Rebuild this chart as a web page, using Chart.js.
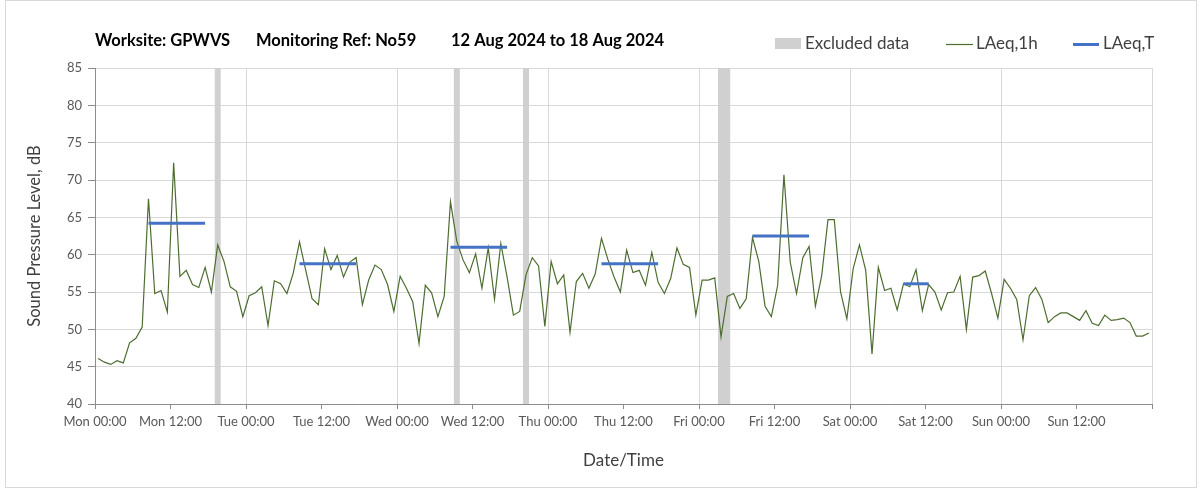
<!DOCTYPE html>
<html>
<head>
<meta charset="utf-8">
<script src="https://cdn.jsdelivr.net/npm/chart.js@4.4.1/dist/chart.umd.min.js"></script>
<style>
  html, body { margin: 0; padding: 0; background: #fff; }
  canvas { display: block; }
</style>
</head>
<body>
<canvas id="noise-chart" width="1203" height="493"></canvas>
<script>
// Hourly LAeq,1h values, Mon 00:00 to Sun 23:00
const laeq1h = [
  46.1, 45.6, 45.3, 45.8, 45.5, 48.2, 48.8, 50.3, 67.5, 54.8, 55.2, 52.3,
  72.3, 57.1, 57.9, 56.0, 55.6, 58.3, 55.0, 61.3, 59.1, 55.7, 55.1, 51.7,
  54.5, 54.9, 55.7, 50.5, 56.5, 56.1, 54.8, 57.5, 61.7, 57.9, 54.1, 53.3,
  60.8, 58.0, 59.9, 57.0, 59.0, 59.6, 53.3, 56.6, 58.6, 58.0, 56.0, 52.4,
  57.1, 55.5, 53.7, 48.1, 55.9, 54.9, 51.7, 54.4, 67.1, 61.8, 59.3, 57.6,
  60.1, 55.5, 60.9, 54.0, 61.5, 57.0, 51.9, 52.4, 57.3, 59.6, 58.5, 50.4,
  59.1, 56.1, 57.3, 49.6, 56.4, 57.5, 55.5, 57.4, 62.2, 59.4, 57.0, 55.0,
  60.6, 57.6, 57.9, 55.9, 60.3, 56.3, 54.8, 56.8, 60.9, 58.7, 58.3, 51.9,
  56.6, 56.6, 56.9, 49.0, 54.4, 54.8, 52.8, 54.1, 62.3, 59.1, 53.1, 51.7,
  55.9, 70.7, 59.0, 54.8, 59.6, 61.1, 53.1, 57.2, 64.7, 64.7, 55.0, 51.4,
  58.1, 61.3, 57.9, 46.7, 58.3, 55.2, 55.5, 52.6, 56.1, 55.7, 58.0, 52.5,
  56.0, 55.0, 52.6, 54.9, 55.0, 57.1, 50.0, 57.0, 57.2, 57.8, 54.8, 51.5,
  56.7, 55.5, 54.0, 48.6, 54.5, 55.6, 54.0, 50.9, 51.7, 52.2, 52.2, 51.7,
  51.2, 52.5, 50.8, 50.5, 51.9, 51.2, 51.3, 51.5, 50.9, 49.1, 49.1, 49.5
];

// LAeq,T daytime periods: [first hour, last hour, level]
const laeqT = [
  [8, 17, 64.2],
  [32, 41, 58.8],
  [56, 65, 61.0],
  [80, 89, 58.8],
  [104, 113, 62.5],
  [128, 132, 56.1]
];

// Excluded data periods, hours from Mon 00:00: [start, end]
const excluded = [
  [19, 20],
  [57, 58],
  [68, 69],
  [99, 101]
];

const tickLabels = [
  'Mon 00:00', 'Mon 12:00', 'Tue 00:00', 'Tue 12:00', 'Wed 00:00', 'Wed 12:00',
  'Thu 00:00', 'Thu 12:00', 'Fri 00:00', 'Fri 12:00', 'Sat 00:00', 'Sat 12:00',
  'Sun 00:00', 'Sun 12:00'
];

const titleParts = ['Worksite: GPWVS', 'Monitoring Ref: No59', '12 Aug 2024 to 18 Aug 2024'];
const FONT = 'Lato, "Open Sans", sans-serif';

const datasets = [];

excluded.forEach(function (r) {
  datasets.push({
    type: 'line',
    data: [{ x: r[0], y: 85 }, { x: r[1], y: 85 }],
    borderWidth: 0,
    pointRadius: 0,
    fill: 'start',
    backgroundColor: '#d0d0d0',
    order: 3
  });
});

datasets.push({
  type: 'line',
  label: 'LAeq,1h',
  data: laeq1h.map(function (v, i) { return { x: i + 0.5, y: v }; }),
  borderColor: '#4d6d30',
  borderWidth: 1.2,
  pointRadius: 0,
  tension: 0,
  fill: false,
  order: 2
});

laeqT.forEach(function (p) {
  datasets.push({
    type: 'line',
    data: [{ x: p[0] + 0.5, y: p[2] }, { x: p[1] + 0.5, y: p[2] }],
    borderColor: '#4472c4',
    borderWidth: 3,
    borderCapStyle: 'butt',
    pointRadius: 0,
    fill: false,
    order: 1
  });
});

// Title, legend and outer frame
const decor = {
  id: 'decor',
  beforeDraw: function (chart) {
    const c = chart.ctx;
    c.save();
    c.strokeStyle = '#d9d9d9';
    c.lineWidth = 1;
    c.strokeRect(5.5, 0.5, 1191, 487);
    c.restore();
  },
  afterDraw: function (chart) {
    const c = chart.ctx;
    c.save();
    c.textBaseline = 'middle';
    c.fillStyle = '#000';
    c.font = 'bold 16.5px ' + FONT;
    c.fillText(titleParts[0], 95, 41);
    c.fillText(titleParts[1], 256, 41);
    c.fillText(titleParts[2], 451, 41);

    c.font = '17px ' + FONT;
    c.fillStyle = '#d0d0d0';
    c.fillRect(775, 38, 26, 11);
    c.fillStyle = '#404040';
    c.fillText('Excluded data', 805, 44);

    c.strokeStyle = '#4d6d30';
    c.lineWidth = 1.2;
    c.beginPath();
    c.moveTo(946, 44.5);
    c.lineTo(973, 44.5);
    c.stroke();
    c.fillText('LAeq,1h', 976, 44);

    c.strokeStyle = '#4472c4';
    c.lineWidth = 3;
    c.beginPath();
    c.moveTo(1073, 44.5);
    c.lineTo(1099, 44.5);
    c.stroke();
    c.fillText('LAeq,T', 1103, 44);
    c.restore();
  }
};

new Chart(document.getElementById('noise-chart'), {
  data: { datasets: datasets },
  options: {
    responsive: false,
    animation: false,
    devicePixelRatio: 1,
    layout: {
      padding: { left: 0, right: 51, top: 68, bottom: 0 }
    },
    plugins: {
      legend: { display: false },
      tooltip: { enabled: false }
    },
    scales: {
      x: {
        type: 'linear',
        min: 0,
        max: 168,
        afterFit: function (scale) { scale.height = 89; },
        border: { color: '#8c8c8c', width: 1 },
        grid: {
          color: function (ctx) {
            return ctx.tick && ctx.tick.value % 24 === 0 ? '#d9d9d9' : 'rgba(0,0,0,0)';
          },
          tickColor: '#8c8c8c',
          tickLength: 5
        },
        ticks: {
          stepSize: 12,
          autoSkip: false,
          maxRotation: 0,
          padding: 5,
          color: '#595959',
          font: { family: FONT, size: 13 },
          callback: function (value) {
            return tickLabels[value / 12] || '';
          }
        },
        title: {
          display: true,
          text: 'Date/Time',
          color: '#404040',
          font: { family: FONT, size: 17 },
          padding: { top: 0, bottom: 22 }
        }
      },
      y: {
        min: 40,
        max: 85,
        afterFit: function (scale) { scale.width = 95; },
        border: { color: '#8c8c8c', width: 1 },
        grid: {
          color: '#d9d9d9',
          tickColor: '#8c8c8c',
          tickLength: 7
        },
        ticks: {
          stepSize: 5,
          padding: 6,
          color: '#595959',
          font: { family: FONT, size: 13 }
        },
        title: {
          display: true,
          text: 'Sound Pressure Level, dB',
          color: '#404040',
          font: { family: FONT, size: 16.5 },
          padding: { top: 25, bottom: 0 }
        }
      }
    }
  },
  plugins: [decor]
});
</script>
</body>
</html>
